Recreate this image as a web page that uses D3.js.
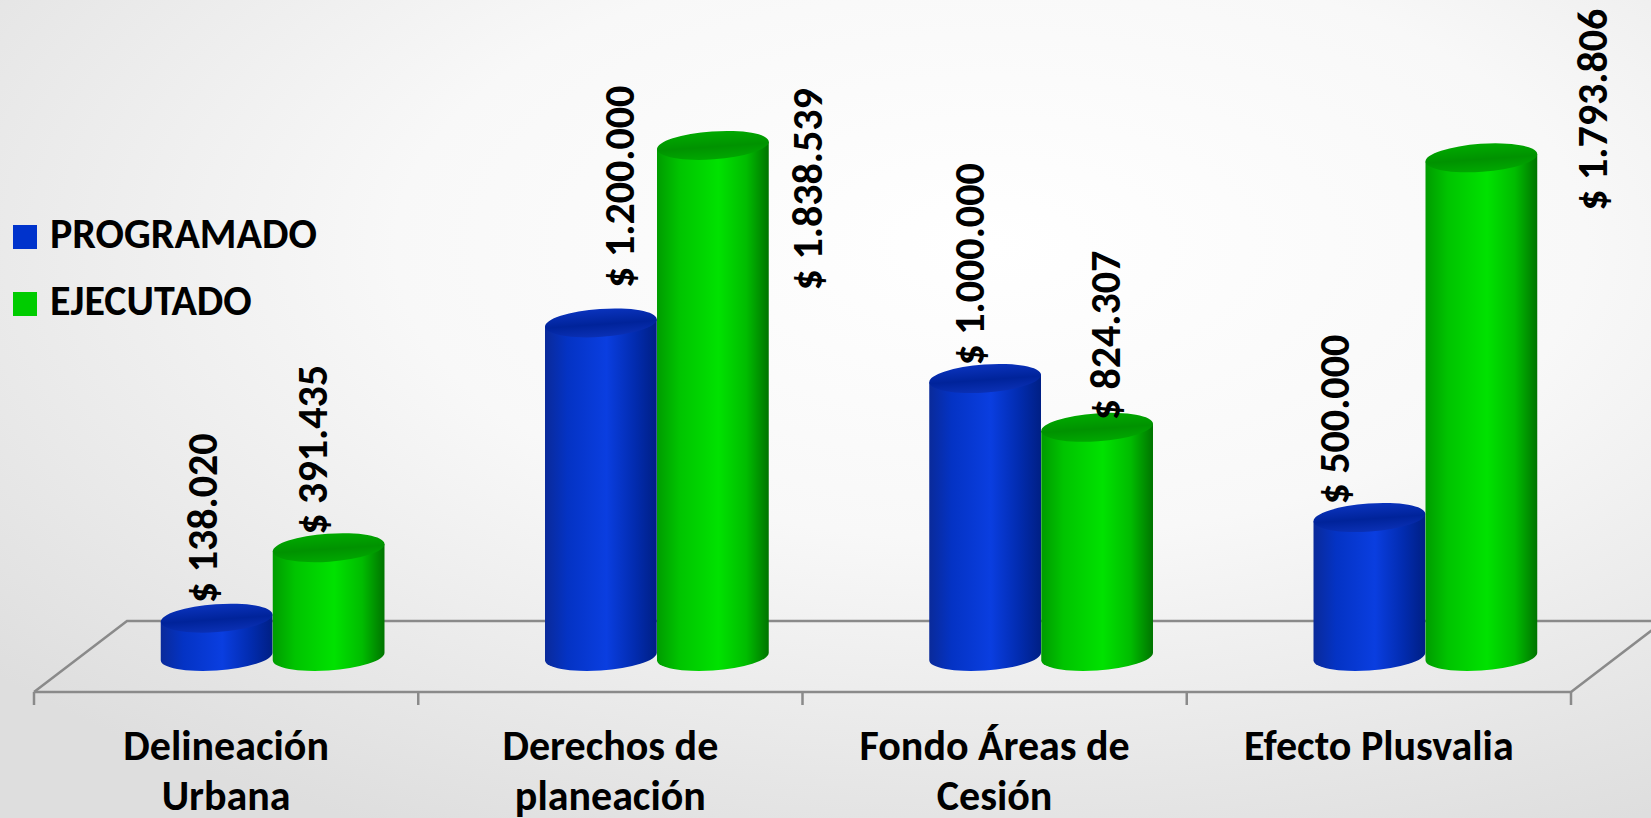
<!DOCTYPE html>
<html><head><meta charset="utf-8">
<script src="https://cdn.jsdelivr.net/npm/d3@7"></script>
<style>html,body{margin:0;padding:0;overflow:hidden;background:#fff}</style>
</head><body><svg id="chart" width="1651" height="818"></svg>
<script>
// ---- data ----
const categories = ["Delineación\nUrbana", "Derechos de\nplaneación", "Fondo Áreas de\nCesión", "Efecto Plusvalia"];
const seriesNames = ["PROGRAMADO", "EJECUTADO"];
const programado = [138020, 1200000, 1000000, 500000];
const ejecutado = [391435, 1838539, 824307, 1793806];
const series = [programado, ejecutado];

// ---- layout constants ----
const W = 1651, H = 818;
const FONT = "Calibri, Carlito, Lato, 'Open Sans', sans-serif";
const colors = {
  side: [["#0a2a9a","#0433c4","#0a3ee0","#022cb0","#001f84"], ["#009c00","#00c400","#00e200","#00bc00","#007400"]],
  top: [["#0a33bd","#00239a","#0a30b5"], ["#00aa00","#009200","#00a800"]],
  legend: ["#0033cc", "#00cc00"]
};
// data label nudges relative to the bar top (Excel 3D label placement)
const labelDx = [[-14, 18, -16, -35], [-16, 94, 8, 111]];
const labelDy = [[-1, -21, 1, 1], [1, 159, 7, 67]];

const svg = d3.select("#chart");
const defs = svg.append("defs");

// background
const bg = defs.append("radialGradient").attr("id","bg").attr("cx","0.6").attr("cy","0.3").attr("r","0.8");
bg.append("stop").attr("offset","0").attr("stop-color","#ffffff");
bg.append("stop").attr("offset","0.45").attr("stop-color","#f8f8f8");
bg.append("stop").attr("offset","1").attr("stop-color","#dedede");
svg.append("rect").attr("width",W).attr("height",H).attr("fill","url(#bg)");

// gradients for cylinders
series.forEach((_, s) => {
  const g = defs.append("linearGradient").attr("id","side"+s).attr("x1","0").attr("x2","1").attr("y1","0").attr("y2","0");
  [0,0.2,0.55,0.8,1].forEach((o,k)=>g.append("stop").attr("offset",o).attr("stop-color",colors.side[s][k]));
  const t = defs.append("linearGradient").attr("id","top"+s).attr("x1","0").attr("x2","0").attr("y1","0").attr("y2","1");
  [0,0.55,1].forEach((o,k)=>t.append("stop").attr("offset",o).attr("stop-color",colors.top[s][k]));
});

// scales
const frontY = 692, depth = [93, -71];
const x = d3.scaleBand().domain(categories).range([34, 1571]).paddingInner(0).paddingOuter(0);
const x1 = d3.scaleBand().domain(seriesNames).range([-112, 112]);
const y = d3.scaleLinear().domain([0, 2000000]).range([frontY + depth[1]/2, frontY + depth[1]/2 - 556]);

// floor
const floor = svg.append("g").attr("stroke","#8a8a8a").attr("stroke-width",2.5).attr("fill","none");
const x0 = x.range()[0], xe = x.range()[1];
floor.append("path").attr("d", `M${x0},${frontY} L${x0+depth[0]},${frontY+depth[1]} L${W+5},${frontY+depth[1]}`);
floor.append("path").attr("d", `M${x0},${frontY} L${xe},${frontY} L${xe+depth[0]},${frontY+depth[1]}`);
const ticks = categories.map(c => x(c)).concat([xe]);
floor.selectAll("line.tick").data(ticks).join("line").attr("class","tick")
  .attr("x1",d=>d).attr("x2",d=>d).attr("y1",frontY).attr("y2",frontY+13);

// cylinders
const rx = x1.bandwidth()/2, ry = 14, ang = -4;
const th = ang*Math.PI/180;
const tt = Math.atan2(-ry*Math.sin(th), rx*Math.cos(th));
const ex = rx*Math.cos(tt)*Math.cos(th) - ry*Math.sin(tt)*Math.sin(th);
const ey = rx*Math.cos(tt)*Math.sin(th) + ry*Math.sin(tt)*Math.cos(th);

const fmt = d3.formatLocale({decimal:",", thousands:".", grouping:[3], currency:["$ ",""]}).format("$,.0f");

const bars = svg.append("g");
categories.forEach((c, i) => {
  const gc = x(c) + x.bandwidth()/2 + depth[0]/2;
  seriesNames.forEach((sn, s) => {
    const v = series[s][i];
    const cx = gc + x1(sn) + rx;
    const yt = y(v), yb = y(0);
    const d = `M${cx-ex},${yt-ey} L${cx-ex},${yb-ey} A${rx},${ry} ${ang} 0 0 ${cx+ex},${yb+ey} L${cx+ex},${yt+ey} Z`;
    bars.append("path").attr("d", d).attr("fill", `url(#side${s})`);
    bars.append("ellipse").attr("cx",cx).attr("cy",yt).attr("rx",rx).attr("ry",ry)
      .attr("transform",`rotate(${ang},${cx},${yt})`).attr("fill",`url(#top${s})`);
  });
});

// data labels
const labels = svg.append("g").attr("font-family",FONT).attr("font-weight","bold").attr("font-size",42).attr("fill","#000");
categories.forEach((c, i) => {
  const gc = x(c) + x.bandwidth()/2 + depth[0]/2;
  seriesNames.forEach((sn, s) => {
    const v = series[s][i];
    const cx = gc + x1(sn) + rx + labelDx[s][i];
    const ly = y(v) - ry + labelDy[s][i];
    labels.append("text").attr("transform",`translate(${cx},${ly}) rotate(-90)`)
      .attr("dy","0.35em").attr("text-anchor","start").text(fmt(v));
  });
});

// category labels
const cat = svg.append("g").attr("font-family",FONT).attr("font-weight","bold").attr("font-size",42).attr("fill","#000").attr("text-anchor","middle");
categories.forEach(c => {
  const t = cat.append("text").attr("x", x(c)+x.bandwidth()/2).attr("y", 760);
  c.split("\n").forEach((ln, k) => t.append("tspan").attr("x", x(c)+x.bandwidth()/2).attr("dy", k ? 50 : 0).text(ln));
});

// legend
const leg = svg.append("g").attr("font-family",FONT).attr("font-weight","bold").attr("font-size",42);
seriesNames.forEach((sn, s) => {
  const gy = 225 + s*67;
  leg.append("rect").attr("x",13).attr("y",gy).attr("width",24).attr("height",24).attr("fill",colors.legend[s]);
  leg.append("text").attr("x",50).attr("y",gy+23).text(sn);
});
</script></body></html>
